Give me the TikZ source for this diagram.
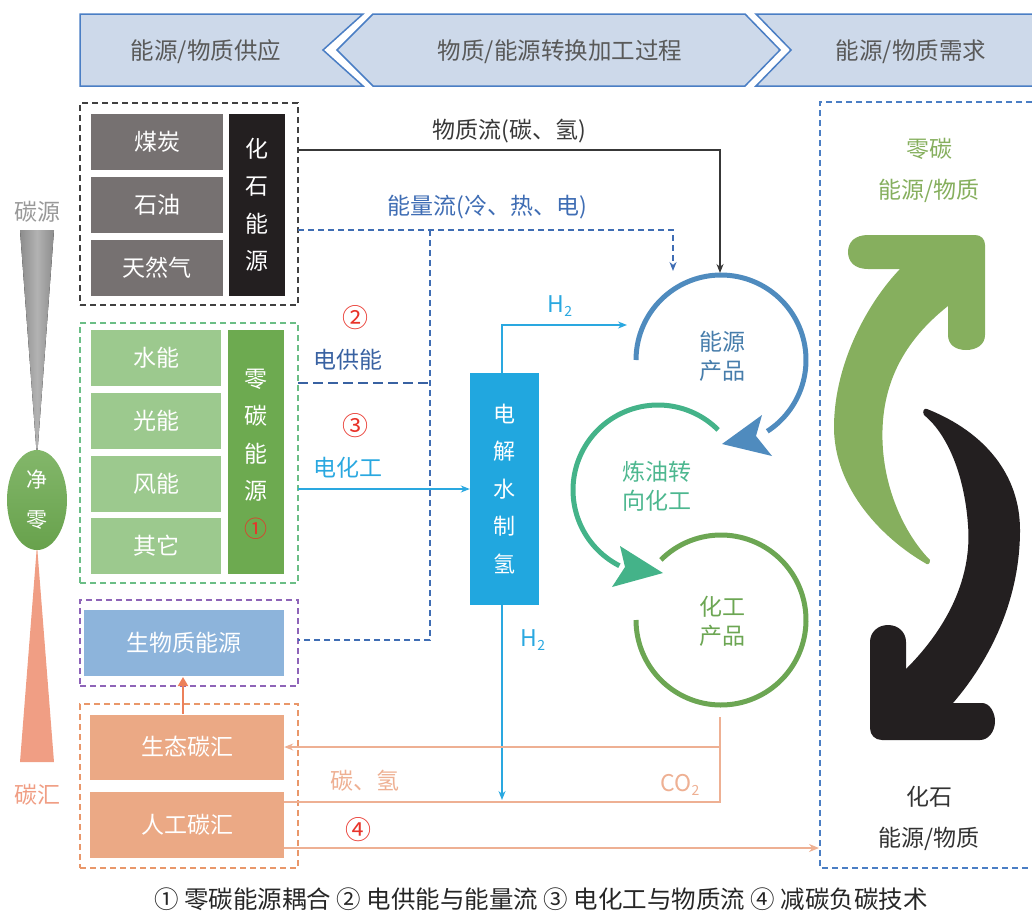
\documentclass[tikz,border=0pt]{standalone}
\usepackage{fontspec}
\setmainfont{Noto Sans CJK SC}
\usetikzlibrary{arrows.meta,shapes.geometric}
\newcommand\vfont[2]{\fontsize{#1}{#2}\selectfont}
\definecolor{hdrfill}{HTML}{CDD9EA}
\definecolor{hdrline}{HTML}{4A7EC4}
\definecolor{hdrtext}{HTML}{595959}
\definecolor{coalgray}{HTML}{767171}
\definecolor{fossil}{HTML}{231F20}
\definecolor{lgreen}{HTML}{9CC98E}
\definecolor{dgreen}{HTML}{6DAA50}
\definecolor{bio}{HTML}{8DB4DB}
\definecolor{sink}{HTML}{EBA985}
\definecolor{elecc}{HTML}{21A7DF}
\definecolor{bluearc}{HTML}{4F8BBE}
\definecolor{tealarc}{HTML}{44B389}
\definecolor{greenarc}{HTML}{6CA653}
\definecolor{enblue}{HTML}{3F6DB4}
\definecolor{h2blue}{HTML}{2AA8E0}
\definecolor{salmon}{HTML}{EEB093}
\definecolor{numred}{HTML}{E8332A}
\definecolor{zgreen}{HTML}{86AF5E}
\definecolor{purpled}{HTML}{8E64B8}
\definecolor{oranged}{HTML}{E9976A}
\definecolor{greend}{HTML}{6BBE86}
\begin{document}
\begin{tikzpicture}[x=1pt,y=-1pt,
  cell/.style={fill=coalgray,text=white,minimum width=132pt,minimum height=56pt,inner sep=0pt,font=\vfont{23}{26}},
  gcell/.style={fill=lgreen,text=white,minimum width=130pt,minimum height=56pt,inner sep=0pt,font=\vfont{23}{26}},
  vbox/.style={text=white,inner sep=0pt,align=center,font=\vfont{23}{37.5}},
  grp/.style={draw,dashed,dash pattern=on 6pt off 4pt,line width=1.3pt,inner sep=0pt},
  lbl/.style={inner sep=0pt,font=\vfont{23}{26}},
  num/.style={inner sep=0pt,text=numred,font=\vfont{26}{27}},
  arc/.style={line width=5pt},
  tip/.style={-{Stealth[length=9pt,width=7pt]}}
]
\useasboundingbox (0,0) rectangle (1032,913);
% header
\fill[hdrfill] (80,14) -- (363,14) -- (323,50) -- (363,86) -- (80,86) -- cycle;
\draw[hdrline,line width=1.5pt] (80,14) -- (363,14) -- (323,50) -- (363,86) -- (80,86) -- cycle;
\fill[hdrfill] (373,14) -- (745,14) -- (780,50) -- (745,86) -- (373,86) -- (337,50) -- cycle;
\draw[hdrline,line width=1.5pt] (373,14) -- (745,14) -- (780,50) -- (745,86) -- (373,86) -- (337,50) -- cycle;
\fill[hdrfill] (756,14) -- (1032,14) -- (1032,86) -- (756,86) -- (791,50) -- cycle;
\draw[hdrline,line width=1.5pt] (1032,14) -- (756,14) -- (791,50) -- (756,86) -- (1032,86);
\node[lbl,text=hdrtext,font=\vfont{23.5}{26}] (h1) at (206,52) {能源/物质供应};
\node[lbl,text=hdrtext,font=\vfont{23.5}{26}] (h2) at (560,52) {物质/能源转换加工过程};
\node[lbl,text=hdrtext,font=\vfont{23.5}{26}] (h3) at (911,52) {能源/物质需求};

% left scale
\node[lbl,text=black!40] (csrc) at (37,212) {碳源};
\fill[left color=black!45,right color=black!45,middle color=black!30] (20,230) -- (54,230) -- (37,458) -- cycle;
\fill[fill=salmon!90!red] (37,545) -- (54,762) -- (20,762) -- cycle;
\node[ellipse,minimum width=60pt,minimum height=100pt,inner sep=0pt,top color=dgreen!85!white,bottom color=dgreen!95!black] (net) at (37,500) {};
\path (net) node[vbox,font=\vfont{21}{40}] {净\\零};
\node[lbl,text=salmon!90!red] (csink) at (37,795) {碳汇};

% fossil group
\node[grp,draw=black!75,minimum width=218pt,minimum height=202pt] (fossilgrp) at (189,204) {};
\node[cell] (coal) at (157,142) {煤炭};
\node[cell] (oil) at (157,205) {石油};
\node[cell] (gas) at (157,268) {天然气};
\node[fill=fossil,minimum width=56pt,minimum height=182pt,inner sep=0pt] (fos) at (257,205) {};
\path (fos) node[vbox] {化\\石\\能\\源};

% zero-carbon group
\node[grp,draw=greend,minimum width=218pt,minimum height=260pt] (greengrp) at (189,453) {};
\node[gcell] (hydro) at (156,358) {水能};
\node[gcell] (solar) at (156,421) {光能};
\node[gcell] (wind) at (156,484) {风能};
\node[gcell] (other) at (156,546) {其它};
\node[fill=dgreen,minimum width=56pt,minimum height=244pt,inner sep=0pt] (zero) at (256,452) {};
\path (zero) node[vbox,yshift=-2pt] {零\\碳\\能\\源\\\textcolor{numred}{①}};

% biomass group
\node[grp,draw=purpled,minimum width=218pt,minimum height=86pt] (biogrp) at (189,643) {};
\node[fill=bio,text=white,minimum width=200pt,minimum height=66pt,inner sep=0pt,font=\vfont{23}{26}] (bio) at (184,643) {生物质能源};

% sink group
\node[grp,draw=oranged,minimum width=218pt,minimum height=164pt] (sinkgrp) at (189,786) {};
\node[fill=sink,text=white,minimum width=194pt,minimum height=65pt,inner sep=0pt,font=\vfont{23}{26}] (eco) at (187,747) {生态碳汇};
\node[fill=sink,text=white,minimum width=194pt,minimum height=66pt,inner sep=0pt,font=\vfont{23}{26}] (art) at (187,825) {人工碳汇};
\coordinate (bioup0) at (183,714);
\coordinate (bioup1) at (183,677);
\draw[oranged!85!red,line width=2pt,-{Triangle[length=9pt,width=10pt]}] (bioup0) -- (bioup1);

% electrolyser
\node[fill=elecc,minimum width=69pt,minimum height=232pt,inner sep=0pt] (elec) at (504.5,489) {};
\path (elec) node[vbox,font=\vfont{22}{37.5}] {电\\解\\水\\制\\氢};

% circles
\draw[bluearc,arc] plot[domain=-57:180,samples=90] ({721+85*cos(\x)},{360-85*sin(\x)});
\fill[bluearc] (722,444) -- (762,415) -- (756,436) -- (772,456) -- cycle;
\node[lbl,text=bluearc!90!black,align=center,font=\vfont{23}{29}] (enprod) at (722,356) {能源\\产品};
\draw[tealarc,arc] plot[domain=45:243,samples=90] ({658+85*cos(\x)},{490-85*sin(\x)});
\fill[tealarc] (663,573) -- (620,546) -- (625,567) -- (612,587) -- cycle;
\node[lbl,text=tealarc!95!white,align=center,font=\vfont{23}{29}] (refine) at (657,486) {炼油转\\向化工};
\draw[greenarc,arc] plot[domain=-180:135,samples=110] ({721+85*cos(\x)},{620-85*sin(\x)});
\node[lbl,text=greenarc,align=center,font=\vfont{23}{29}] (chprod) at (722,621) {化工\\产品};

% material flow
\coordinate (m0) at (298,150);
\coordinate (mt) at (720,273);
\draw[black!78,line width=1.3pt,tip] (m0) -| (mt);
\node[lbl,text=black!78] (mlab) at (509,131) {物质流(碳、氢)};

% energy flow
\coordinate (e0) at (298,230);
\coordinate (et) at (673,271);
\coordinate (e2) at (430,230);
\coordinate (e3) at (430,640);
\coordinate (e4) at (298,640);
\draw[enblue,line width=1.3pt,dash pattern=on 6pt off 4pt,-{Stealth[length=9pt,width=7pt]}] (e0) -| (et);
\draw[enblue,line width=1.3pt,dash pattern=on 6pt off 4pt] (e2) -- (e3) -- (e4);
\node[lbl,text=enblue] (elab) at (487,207) {能量流(冷、热、电)};
\coordinate (p0) at (298,383);
\coordinate (p1) at (430,383);
\draw[enblue!90!black,line width=1.5pt,dash pattern=on 10pt off 5pt] (p0) -- (p1);
\node[num] (n2) at (355,318) {②};
\node[lbl,text=enblue!90!black] (plab) at (348,360) {电供能};
\node[num] (n3) at (355,426) {③};
\node[lbl,text=h2blue] (clab) at (348,468) {电化工};
\coordinate (c0) at (298,489);
\draw[h2blue,line width=1.3pt,tip] (c0) -- (elec.west |- c0);

% hydrogen
\coordinate (ht) at (627,325);
\coordinate (hx) at (502,0);
\draw[h2blue,line width=1.3pt,tip] (elec.north -| hx) |- (ht);
\node[lbl,text=h2blue] (h2a) at (560,306) {H{\vfont{14}{14}\raisebox{-4pt}{2}}};
\coordinate (hb) at (502,800);
\draw[h2blue,line width=1.3pt,tip] (elec.south -| hb) -- (hb);
\node[lbl,text=h2blue] (h2b) at (533,640) {H{\vfont{14}{14}\raisebox{-4pt}{2}}};

% sink lines
\coordinate (s0) at (720,717);
\coordinate (s1) at (720,747);
\coordinate (s2) at (720,802);
\draw[salmon,line width=1.5pt] (s0) -- (s2) -- (art.east |- s2);
\draw[salmon,line width=1.5pt,-{Stealth[length=9pt,width=7pt]}] (s1) -- (eco.east);
\node[lbl,text=salmon] (chlab) at (365,781) {碳、氢};
\node[lbl,text=salmon] (co2) at (680,785) {CO{\vfont{14}{14}\raisebox{-4pt}{2}}};
\coordinate (f0) at (284,848);
\coordinate (f1) at (819,848);
\draw[salmon,line width=1.5pt,-{Stealth[length=10pt,width=8pt]}] (f0) -- (f1);
\node[num] (n4) at (358,830) {④};

% demand box
\draw[hdrline,line width=1.3pt,dash pattern=on 6pt off 4pt] (1032,102) -- (820,102) -- (820,868) -- (1032,868);
\node[lbl,text=zgreen,align=center,font=\vfont{23}{41}] (zlab) at (929,170) {零碳\\能源/物质};
\node[lbl,text=black!80,align=center,font=\vfont{23}{41}] (flab) at (929,818) {化石\\能源/物质};

\fill[zgreen] (925,563)
 .. controls (885,540) and (833,490) .. (834,425)
 .. controls (835,360) and (870,300) .. (900,269)
 -- (868,269)
 .. controls (855,269) and (848,262) .. (848,252)
 .. controls (848,242) and (855,235) .. (868,235)
 -- (975,235)
 .. controls (981,235) and (985,239) .. (985,245)
 -- (985,335)
 .. controls (985,345) and (976,350) .. (966,350)
 .. controls (956,350) and (948,345) .. (948,335)
 -- (948,306)
 .. controls (905,340) and (878,385) .. (883,450)
 .. controls (887,500) and (910,540) .. (930,560)
 .. controls (930,565) and (927,565) .. cycle;
\fill[fossil] (927,409)
 .. controls (985,432) and (1020,475) .. (1020,530)
 .. controls (1020,600) and (990,660) .. (953,703)
 -- (982,703)
 .. controls (990,703) and (995,713) .. (995,721)
 .. controls (995,732) and (988,740) .. (980,740)
 -- (882,740)
 .. controls (875,740) and (870,735) .. (870,728)
 -- (870,642)
 .. controls (870,632) and (878,625) .. (888,625)
 .. controls (898,625) and (906,632) .. (906,642)
 -- (906,669)
 .. controls (950,625) and (972,575) .. (968,525)
 .. controls (964,470) and (945,432) .. (924,415)
 .. controls (922,411) and (924,408) .. cycle;

% caption
\node[lbl,text=black!85,font=\vfont{24.5}{26}] (cap) at (541,899) {① 零碳能源耦合 ② 电供能与能量流 ③ 电化工与物质流 ④ 减碳负碳技术};
\end{tikzpicture}
\end{document}
